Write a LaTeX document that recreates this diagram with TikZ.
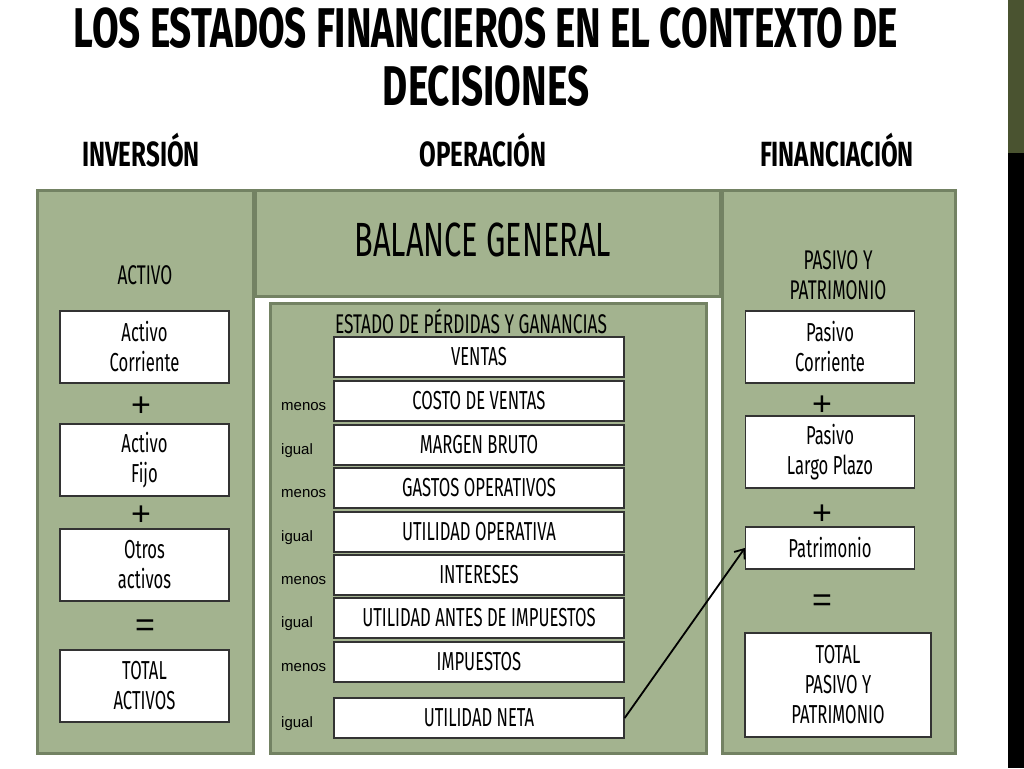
\documentclass[tikz,border=0pt]{standalone}
\usepackage{fontspec}
\setmainfont{Fira Sans}
\newfontfamily\agency[FakeStretch=0.64]{Fira Sans}
\newfontfamily\agencybold[FakeStretch=0.69]{Fira Sans}
\newfontfamily\arialfont{Liberation Sans}
\usepackage{tikz}
\usetikzlibrary{arrows.meta}
\usepackage{xcolor}
\definecolor{sage}{RGB}{163,179,143}
\definecolor{sageline}{RGB}{115,130,99}
\definecolor{olive}{RGB}{74,83,48}
\tikzset{%
    panel/.style={draw=sageline, line width=3pt, fill=sage},
    whitebox/.style={%
        draw=black!80, line width=1.3pt, fill=white, align=center,
        inner sep=0pt, minimum width=169pt, minimum height=72pt,
        font=\agency\fontsize{26}{30}\selectfont},
    rowbox/.style={whitebox, minimum width=290pt, minimum height=40pt},
    sign/.style={font=\arialfont\fontsize{34}{34}\selectfont},
    oplabel/.style={anchor=west, inner sep=0pt, font=\arialfont\fontsize{15}{15}\selectfont},
    heading/.style={font=\agencybold\bfseries\fontsize{35}{35}\selectfont},
    caption/.style={align=center, font=\agency\fontsize{27}{30}\selectfont}
}
\begin{document}
\begin{tikzpicture}[x=1pt,y=-1pt]
    \useasboundingbox (0,0) rectangle (1024,768);
    \fill[white] (0,0) rectangle (1024,768);
    \fill[olive] (1008,0) rectangle (1024,153);
    \fill[black] (1008,153) rectangle (1024,768);
    % title
    \node[font=\agencybold\bfseries\fontsize{56}{58}\selectfont] (title1) at (486,28) {LOS ESTADOS FINANCIEROS EN EL CONTEXTO DE};
    \node[font=\agencybold\bfseries\fontsize{56}{58}\selectfont] (title2) at (486,86) {DECISIONES};
    \node[heading] (inversion) at (141,150) {INVERSIÓN};
    \node[heading] (operacion) at (483,150) {OPERACIÓN};
    \node[heading] (financiacion) at (837,150) {FINANCIACIÓN};
    % panels
    \draw[panel] (37,190) rectangle (253,753);
    \draw[panel] (255,190) rectangle (720,296);
    \draw[panel] (270,303) rectangle (706,753);
    \draw[panel] (722,190) rectangle (955,753);
    \node[font=\agency\fontsize{48}{48}\selectfont] (balance) at (483,240) {BALANCE GENERAL};
    % inversion
    \node[caption] (activo) at (145,275) {ACTIVO};
    \node[whitebox] (actcorr) at (144.5,347) {Activo\\Corriente};
    \node[sign] (plusA) at (141,407) {+};
    \node[whitebox] (actfijo) at (144.5,460) {Activo\\Fijo};
    \node[sign] (plusB) at (141,516) {+};
    \node[whitebox] (otros) at (144.5,565) {Otros\\activos};
    \node[sign] (eqA) at (145,628) {=};
    \node[whitebox] (totact) at (144.5,686) {TOTAL\\ACTIVOS};
    % financiacion
    \node[caption] (pasivo) at (838,275) {PASIVO Y\\PATRIMONIO};
    \node[whitebox] (pascorr) at (830,347) {Pasivo\\Corriente};
    \node[sign] (plusC) at (822,406) {+};
    \node[whitebox] (paslargo) at (830,452) {Pasivo\\Largo Plazo};
    \node[sign] (plusD) at (822,515) {+};
    \node[whitebox, minimum height=42pt] (patrimonio) at (830,548) {Patrimonio};
    \node[sign] (eqB) at (822,603) {=};
    \node[whitebox, minimum width=186pt, minimum height=104pt] (totpas) at (838,685) {TOTAL\\PASIVO Y\\PATRIMONIO};
    % operacion
    \node[caption] (estado) at (471,321) {ESTADO DE PÉRDIDAS Y GANANCIAS};
    \foreach \y/\txt/\op [count=\i] in {357/VENTAS/,
        401/COSTO DE VENTAS/menos, 445/MARGEN BRUTO/igual,
        488/GASTOS OPERATIVOS/menos, 532/UTILIDAD OPERATIVA/igual,
        575/INTERESES/menos, 618/UTILIDAD ANTES DE IMPUESTOS/igual,
        662/IMPUESTOS/menos, 718/UTILIDAD NETA/igual}
    {
    \node[rowbox] (row\i) at (479,\y) {\txt};
    \node[oplabel] (op\i) at (281,\y+6) {\op};
    }
    \draw[-{Straight Barb[length=8pt,width=13pt]}, line width=1.8pt] (row9.east) -- (patrimonio.west);
\end{tikzpicture}
\end{document}
